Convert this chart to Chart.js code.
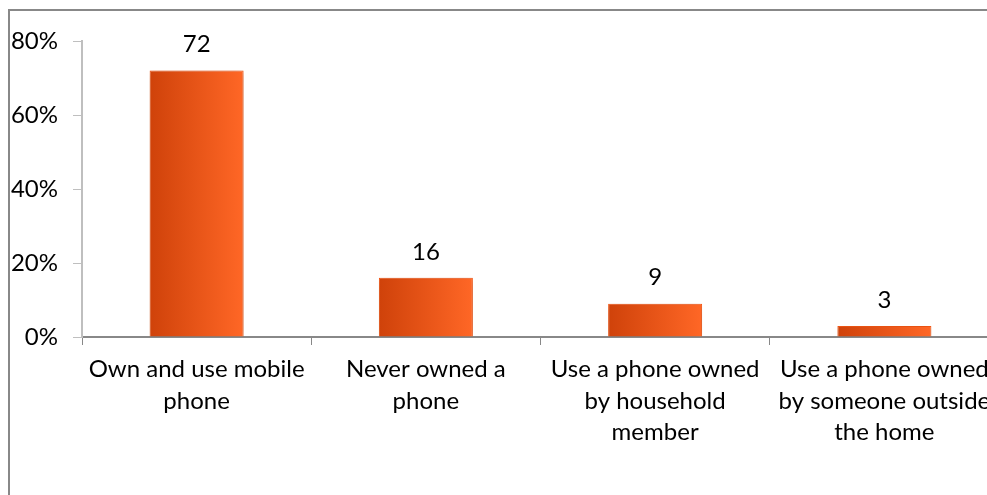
<!DOCTYPE html>
<html>
<head>
<meta charset="utf-8">
<script src="https://cdn.jsdelivr.net/npm/chart.js@4/dist/chart.umd.min.js"></script>
<style>
  html, body { margin: 0; padding: 0; background: #fff; overflow: hidden; }
  #frame { position: absolute; left: 8px; top: 9px; width: 1100px; height: 600px; border: 2px solid #888; }
  #chart { position: absolute; left: 0; top: 0; }
</style>
</head>
<body>
<div id="frame"></div>
<canvas id="chart" width="1010" height="495"></canvas>
<script>
// chart data
const categories = [
  ['Own and use mobile', 'phone'],
  ['Never owned a', 'phone'],
  ['Use a phone owned', 'by household', 'member'],
  ['Use a phone owned', 'by someone outside', 'the home']
];
const shares = [72, 16, 9, 3];
const yTicks = [0, 20, 40, 60, 80];

const FONT = 'Lato, "Open Sans", sans-serif';

// orange gradient per bar, left dark -> right light
function barFill(c) {
  const chart = c.chart;
  const xs = chart.scales.x;
  if (!xs || c.dataIndex === undefined) return '#e85a1c';
  const cx = xs.getPixelForValue(c.dataIndex);
  const half = xs.width / categories.length * 0.41 / 2;
  if (!isFinite(cx) || !isFinite(half) || half <= 0) return '#e85a1c';
  const g = chart.ctx.createLinearGradient(cx - half, 0, cx + half, 0);
  g.addColorStop(0, '#cf420a');
  g.addColorStop(1, '#ff6726');
  return g;
}

// soft shadow behind the bars
const barShadow = {
  id: 'barShadow',
  beforeDatasetDraw(chart) {
    const ctx = chart.ctx;
    ctx.save();
    ctx.shadowColor = 'rgba(0,0,0,0.25)';
    ctx.shadowBlur = 8;
    ctx.shadowOffsetX = 0;
    ctx.shadowOffsetY = 1;
  },
  afterDatasetDraw(chart) {
    chart.ctx.restore();
  }
};

// value above each bar
const valueLabels = {
  id: 'valueLabels',
  afterDatasetsDraw(chart) {
    const ctx = chart.ctx;
    const meta = chart.getDatasetMeta(0);
    ctx.save();
    ctx.fillStyle = '#000';
    ctx.font = '24px ' + FONT;
    ctx.textAlign = 'center';
    ctx.textBaseline = 'middle';
    meta.data.forEach((bar, i) => {
      ctx.fillText(String(shares[i]), bar.x, bar.y - 26);
    });
    ctx.restore();
  }
};

new Chart(document.getElementById('chart'), {
  type: 'bar',
  data: {
    labels: categories,
    datasets: [{
      data: shares,
      backgroundColor: barFill,
      borderColor: '#ff5a14',
      borderWidth: 1,
      barPercentage: 0.41,
      categoryPercentage: 1
    }]
  },
  options: {
    responsive: false,
    animation: false,
    layout: { padding: { left: 0, top: 41, right: 11, bottom: 0 } },
    plugins: {
      legend: { display: false },
      tooltip: { enabled: false }
    },
    scales: {
      x: {
        grid: {
          offset: true,
          drawOnChartArea: false,
          drawTicks: true,
          tickLength: 8,
          color: '#888'
        },
        border: { color: '#888', width: 2 },
        ticks: {
          color: '#000',
          font: { family: FONT, size: 24, lineHeight: 1.31 },
          padding: 9,
          maxRotation: 0,
          autoSkip: false
        },
        afterFit(scale) { scale.height = 158; }
      },
      y: {
        min: 0,
        max: 80,
        afterBuildTicks(scale) {
          scale.ticks = yTicks.map(v => ({ value: v }));
        },
        grid: {
          drawOnChartArea: false,
          drawTicks: true,
          tickLength: 9,
          color: '#bfbfbf'
        },
        border: { color: '#bfbfbf', width: 2 },
        ticks: {
          color: '#000',
          font: { family: FONT, size: 24 },
          padding: 15,
          callback: v => v + '%'
        },
        afterFit(scale) { scale.width = 82; }
      }
    }
  },
  plugins: [barShadow, valueLabels]
});
</script>
</body>
</html>
